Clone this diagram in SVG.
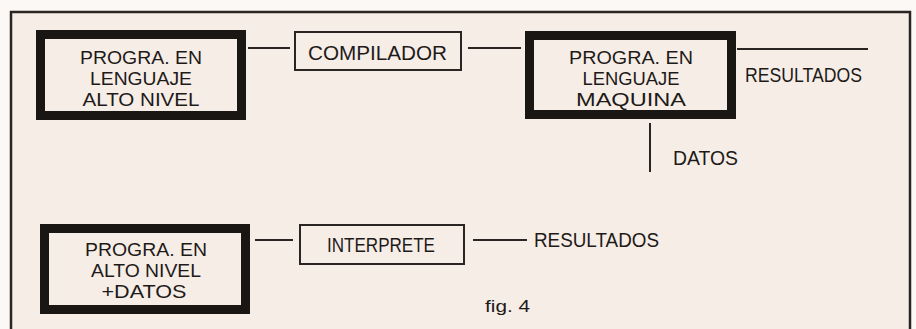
<svg xmlns="http://www.w3.org/2000/svg" width="916" height="329" viewBox="0 0 916 329">
  <style>
    .t { font-family: "Liberation Sans", Arial, sans-serif; font-size: 20.5px; fill: #1e1a18; }
    .m { font-size: 18.5px; }
    .thick { fill: none; stroke: #1a1614; stroke-width: 9; }
    .thin { fill: none; stroke: #2a2522; stroke-width: 2; }
    .ln { stroke: #2a2522; stroke-width: 2; fill: none; }
  </style>
  <rect x="0" y="0" width="916" height="329" fill="#fbf8f5"/>
  <rect id="frame" x="11" y="12" width="899" height="330" fill="#f6ede7" stroke="#2a2522" stroke-width="2.5"/>

  <g id="connectors">
    <line class="ln" x1="248" y1="48" x2="290" y2="48"/>
    <line class="ln" x1="468" y1="48" x2="521" y2="48"/>
    <line class="ln" x1="737" y1="49" x2="868" y2="49"/>
    <line class="ln" x1="650" y1="123" x2="650" y2="172"/>
    <line class="ln" x1="255" y1="240" x2="293" y2="240"/>
    <line class="ln" x1="473" y1="240" x2="527" y2="240"/>
  </g>

  <g id="n-alto-nivel">
    <rect class="thick" x="40.5" y="34.5" width="201" height="81"/>
    <text class="t m" x="141" y="64" text-anchor="middle" textLength="122" lengthAdjust="spacingAndGlyphs">PROGRA. EN</text>
    <text class="t m" x="141" y="85" text-anchor="middle" textLength="102" lengthAdjust="spacingAndGlyphs">LENGUAJE</text>
    <text class="t m" x="141" y="106" text-anchor="middle" textLength="117" lengthAdjust="spacingAndGlyphs">ALTO NIVEL</text>
  </g>

  <g id="n-compilador">
    <rect class="thin" x="295" y="32" width="166" height="38"/>
    <text class="t" x="377.5" y="60" text-anchor="middle" textLength="139" lengthAdjust="spacingAndGlyphs">COMPILADOR</text>
  </g>

  <g id="n-maquina">
    <rect class="thick" x="529.5" y="35.5" width="202" height="79"/>
    <text class="t m" x="631" y="64" text-anchor="middle" textLength="124" lengthAdjust="spacingAndGlyphs">PROGRA. EN</text>
    <text class="t m" x="631" y="85" text-anchor="middle" textLength="97" lengthAdjust="spacingAndGlyphs">LENGUAJE</text>
    <text class="t m" x="631" y="106" text-anchor="middle" textLength="110" lengthAdjust="spacingAndGlyphs">MAQUINA</text>
  </g>

  <g id="n-resultados-1">
    <text class="t" x="745" y="82" textLength="117" lengthAdjust="spacingAndGlyphs">RESULTADOS</text>
  </g>

  <g id="n-datos">
    <text class="t" x="673" y="165" textLength="65" lengthAdjust="spacingAndGlyphs">DATOS</text>
  </g>

  <g id="n-alto-nivel-datos">
    <rect class="thick" x="44.5" y="228.5" width="201" height="81"/>
    <text class="t m" x="146" y="256" text-anchor="middle" textLength="122" lengthAdjust="spacingAndGlyphs">PROGRA. EN</text>
    <text class="t m" x="146" y="277" text-anchor="middle" textLength="110" lengthAdjust="spacingAndGlyphs">ALTO NIVEL</text>
    <text class="t m" x="144" y="298" text-anchor="middle" textLength="85" lengthAdjust="spacingAndGlyphs">+DATOS</text>
  </g>

  <g id="n-interprete">
    <rect class="thin" x="300" y="225" width="164" height="39"/>
    <text class="t" x="381" y="252" text-anchor="middle" textLength="108" lengthAdjust="spacingAndGlyphs">INTERPRETE</text>
  </g>

  <g id="n-resultados-2">
    <text class="t" x="534" y="247" textLength="125" lengthAdjust="spacingAndGlyphs">RESULTADOS</text>
  </g>

  <text id="caption" class="t" x="485" y="312" style="font-size:17px" textLength="45" lengthAdjust="spacingAndGlyphs">fig. 4</text>
</svg>
